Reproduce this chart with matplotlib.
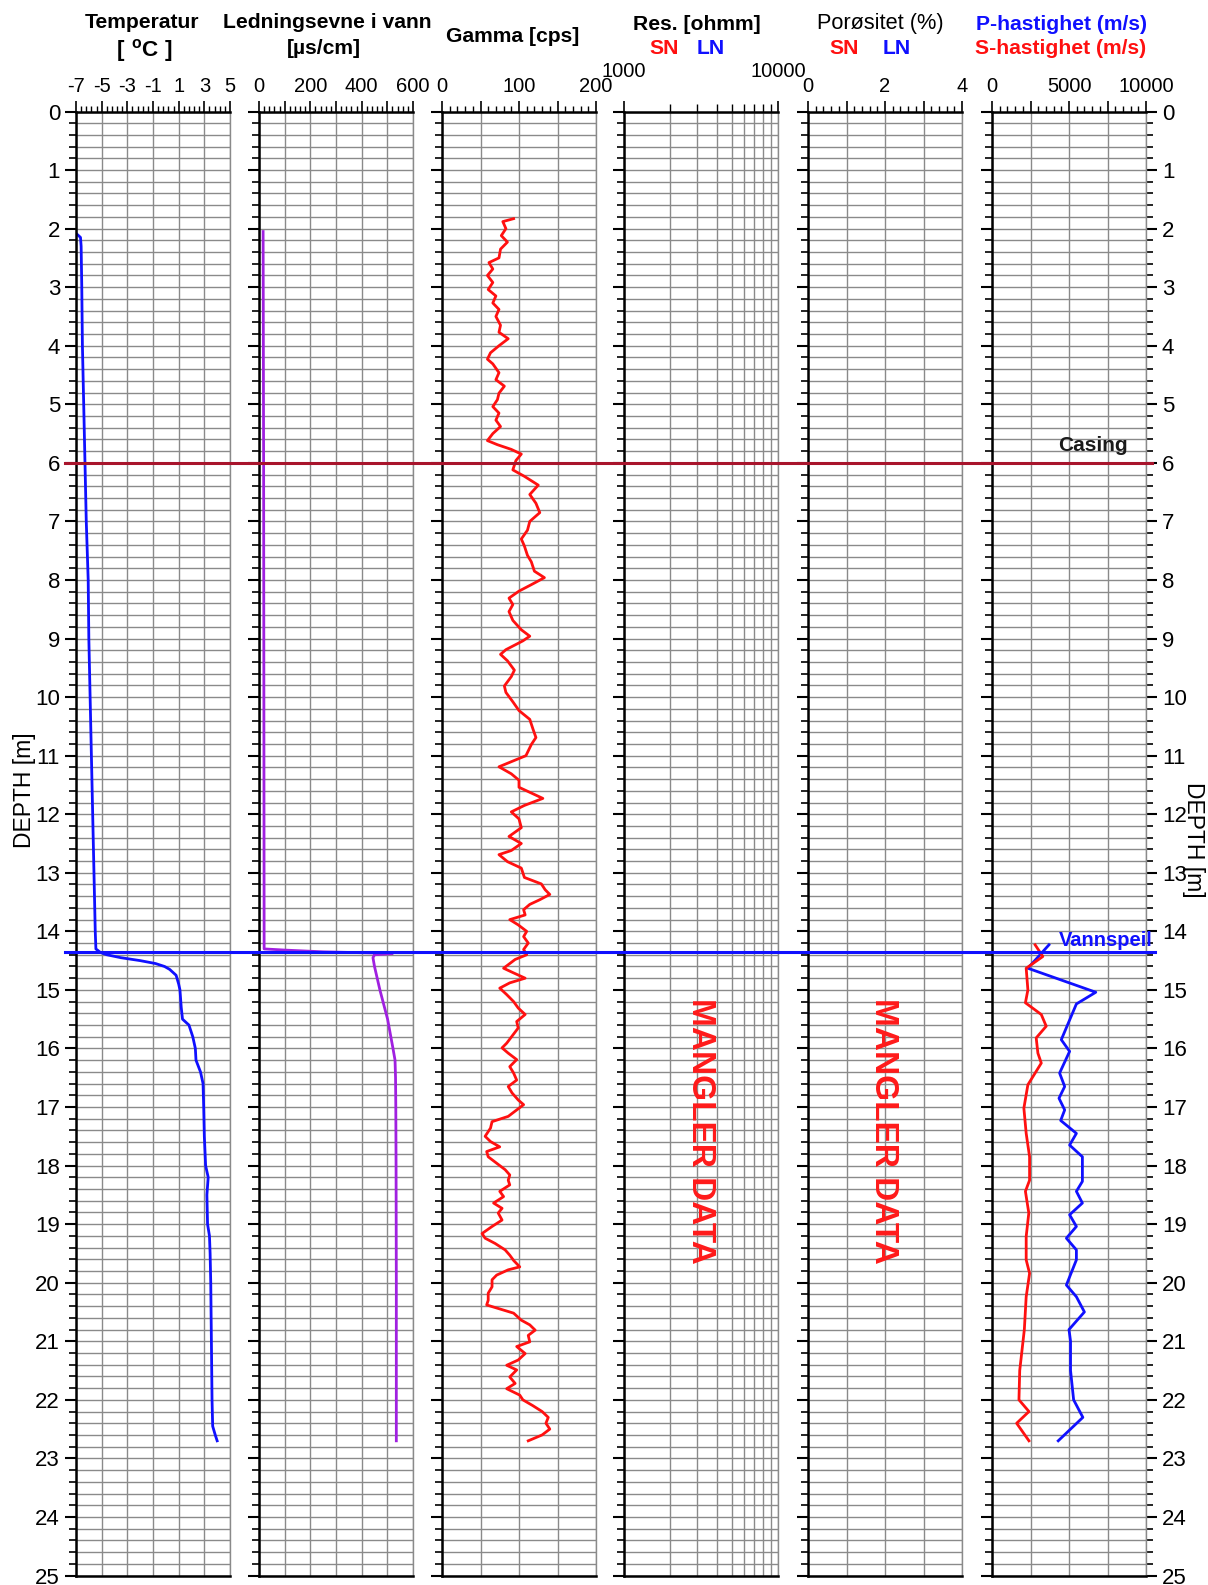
import matplotlib
matplotlib.use("Agg")
import matplotlib.pyplot as plt
from matplotlib.ticker import MultipleLocator, FixedLocator, FuncFormatter, NullFormatter
from matplotlib.lines import Line2D
from matplotlib.transforms import blended_transform_factory
import numpy as np

plt.rcParams['font.family'] = ['Liberation Sans', 'DejaVu Sans']
plt.rcParams['mathtext.fontset'] = 'custom'
plt.rcParams['mathtext.rm'] = 'Liberation Sans'
plt.rcParams['mathtext.bf'] = 'Liberation Sans:bold'

# ---------------- data ----------------
temp_depth = [2.10, 2.15, 2.3, 3.0, 4.0, 5.0, 6.0, 7.0, 8.0, 9.0, 10.0, 11.0, 12.0, 13.0, 14.0, 14.30,
              14.36, 14.40, 14.45, 14.50, 14.55, 14.60, 14.65, 14.75, 14.90, 15.0, 15.3, 15.5, 15.6,
              15.8, 16.0, 16.2, 16.4, 16.6, 17.0, 17.5, 18.0, 18.2, 18.5, 19.0, 19.2, 19.5, 20.0,
              21.0, 22.0, 22.45, 22.6, 22.7]
temp_val = [-6.9, -6.65, -6.6, -6.55, -6.5, -6.4, -6.3, -6.2, -6.05, -6.0, -5.9, -5.8, -5.7, -5.6, -5.5, -5.45,
            -5.1, -4.6, -3.5, -2.0, -0.8, -0.1, 0.3, 0.8, 1.0, 1.1, 1.2, 1.3, 1.8,
            2.1, 2.3, 2.35, 2.7, 2.9, 2.95, 3.0, 3.1, 3.3, 3.2, 3.25, 3.4, 3.45, 3.5,
            3.55, 3.6, 3.65, 3.85, 4.0]

cond_depth = [2.05, 6.0, 10.0, 14.30, 14.32, 14.35, 14.37, 14.38, 14.40, 14.45, 14.6, 15.0, 15.5, 16.0,
              16.2, 16.5, 17.0, 18.0, 20.0, 22.7]
cond_val = [16, 18, 19, 20, 100, 250, 450, 520, 450, 444, 450, 471, 501, 522,
            530, 532, 533, 534, 535, 535]

gamma_depth = [1.83, 1.88, 2.0, 2.12, 2.23, 2.35, 2.5, 2.58, 2.69, 2.8, 2.92, 3.04, 3.15, 3.27, 3.38, 3.5,
               3.65, 3.77, 3.88, 4.0, 4.12, 4.23, 4.31, 4.46, 4.58, 4.69, 4.81, 4.92, 5.04, 5.15, 5.27,
               5.38, 5.5, 5.62, 5.69, 5.77, 5.85, 5.96, 6.12, 6.23, 6.38, 6.54, 6.69, 6.85, 7.0, 7.15,
               7.3, 7.42, 7.58, 7.69, 7.85, 7.96, 8.08, 8.19, 8.31, 8.42, 8.54, 8.69, 8.85, 8.96, 9.04,
               9.19, 9.27, 9.38, 9.54, 9.65, 9.81, 9.92, 10.08, 10.23, 10.38, 10.54, 10.69, 10.81, 11.0,
               11.12, 11.19, 11.31, 11.42, 11.54, 11.73, 11.85, 11.96, 12.08, 12.23, 12.38, 12.5, 12.62,
               12.69, 12.81, 12.92, 13.08, 13.19, 13.29, 13.37, 13.46, 13.54, 13.63, 13.72, 13.8,
               13.89, 14.0, 14.09, 14.2, 14.31, 14.4, 14.48, 14.63, 14.71, 14.8, 14.88, 14.97, 15.08,
               15.2, 15.31, 15.42, 15.54, 15.65, 15.79, 15.91, 15.99, 16.08, 16.19, 16.31, 16.42, 16.54,
               16.65, 16.76, 16.88, 16.96, 17.05, 17.16, 17.25, 17.36, 17.5, 17.59, 17.68, 17.76, 17.85,
               17.96, 18.07, 18.16, 18.25, 18.33, 18.44, 18.53, 18.64, 18.73, 18.81, 18.93, 19.04,
               19.16, 19.24, 19.33, 19.44, 19.53, 19.62, 19.73, 19.78, 19.87, 19.95, 20.07, 20.18,
               20.3, 20.38, 20.44, 20.52, 20.64, 20.72, 20.81, 20.9, 21.01, 21.09, 21.21, 21.32, 21.41,
               21.49, 21.61, 21.72, 21.81, 21.92, 22.0, 22.1, 22.2, 22.3, 22.4, 22.5, 22.6, 22.7]
gamma_val = [93, 79, 83, 77, 85, 76, 74, 61, 66, 59, 66, 60, 70, 66, 74, 70,
             76, 74, 86, 74, 63, 59, 66, 74, 70, 81, 74, 72, 66, 74, 70,
             76, 66, 59, 72, 90, 103, 96, 92, 107, 125, 114, 122, 127, 114, 111,
             103, 107, 111, 116, 120, 133, 116, 100, 87, 92, 87, 92, 103, 114, 105,
             83, 76, 85, 94, 90, 81, 83, 92, 100, 114, 118, 122, 116, 109,
             87, 74, 90, 100, 100, 131, 107, 90, 100, 103, 87, 103, 90,
             74, 85, 103, 107, 129, 134, 140, 127, 114, 106, 108, 88,
             99, 110, 106, 112, 106, 110, 95, 80, 93, 108, 88, 75, 84,
             93, 99, 108, 97, 99, 91, 84, 78, 86, 97, 88, 93, 97,
             86, 91, 99, 106, 97, 86, 65, 63, 56, 63, 75, 58, 60,
             71, 82, 88, 86, 88, 75, 80, 67, 78, 73, 78, 65,
             52, 56, 69, 82, 88, 93, 101, 86, 71, 65, 65, 60,
             60, 58, 73, 93, 103, 114, 121, 112, 114, 97, 108, 99, 84,
             97, 88, 95, 84, 101, 105, 118, 130, 138, 135, 140, 130, 112]

vp_depth = [14.23, 14.63, 15.04, 15.24, 15.85, 16.05, 16.42, 16.65, 16.85, 17.05, 17.23, 17.45, 17.65,
            17.85, 18.27, 18.44, 18.64, 18.84, 19.04, 19.24, 19.44, 19.61, 20.04, 20.24, 20.5, 20.8,
            21.0, 21.5, 22.0, 22.3, 22.7]
vp_val = [3700, 2330, 6740, 5480, 4500, 5040, 4390, 4720, 4350, 4720, 4460, 5480, 5040,
          5870, 5870, 5480, 5870, 5040, 5480, 4830, 5480, 5480, 4830, 5480, 6000, 5000,
          5100, 5100, 5300, 5900, 4300]

vs_depth = [14.23, 14.43, 14.63, 15.0, 15.22, 15.42, 15.62, 15.82, 16.08, 16.25, 16.62, 17.02, 17.45,
            17.85, 18.25, 18.44, 18.81, 19.21, 19.61, 19.84, 20.24, 20.8, 21.5, 22.0, 22.2, 22.4, 22.7]
vs_val = [2800, 3300, 2220, 2330, 2170, 3200, 3520, 2870, 2980, 3200, 2330, 2070, 2220,
          2440, 2440, 2170, 2390, 2220, 2220, 2440, 2220, 2100, 1800, 1750, 2400, 1600, 2400]

depth_labels = list(range(0, 26))
temp_ticks = [-7, -5, -3, -1, 1, 3, 5]
casing_depth = 6.0
water_depth = 14.35

# ---------------- layout ----------------
W, H = 1208, 1585
fig = plt.figure(figsize=(W / 100, H / 100), dpi=100)
lefts = [76, 259, 442, 624, 808, 992]
pw = 154
top_px, bot_px = 111.5, 1575.5
axes = []
for lx in lefts:
    ax = fig.add_axes([lx / W, 1 - bot_px / H, pw / W, (bot_px - top_px) / H])
    axes.append(ax)

GRID = '#8a8a8a'
XFS = 14.5
YFS = 16


def style(ax, xmin, xmax, major_locs, minor_locs, labels_at=None, log=False, pad=3):
    ax.set_ylim(25, 0)
    if log:
        ax.set_xscale('log')
    ax.set_xlim(xmin, xmax)
    ax.xaxis.set_major_locator(FixedLocator(major_locs))
    ax.xaxis.set_minor_locator(FixedLocator(minor_locs))
    ax.xaxis.set_minor_formatter(NullFormatter())
    ax.xaxis.set_major_formatter(FuncFormatter(
        lambda v, p: ('%g' % round(v, 6)) if any(abs(v - l) < 1e-6 for l in labels_at) else ''))
    ax.grid(True, which='major', axis='x', color=GRID, lw=1.0)
    if log:
        ax.grid(True, which='minor', axis='x', color=GRID, lw=1.0)
    ax.xaxis.tick_top()
    ax.tick_params(axis='x', which='major', direction='out', length=8, width=1.2, labelsize=XFS, pad=pad)
    ax.tick_params(axis='x', which='minor', direction='out', length=4, width=1.0)
    ax.yaxis.set_major_locator(MultipleLocator(1))
    ax.yaxis.set_minor_locator(MultipleLocator(0.2))
    ax.grid(True, which='both', axis='y', color=GRID, lw=1.0)
    ax.tick_params(axis='y', which='major', direction='out', length=8, width=1.5, labelsize=YFS,
                   left=True, labelleft=False)
    ax.tick_params(axis='y', which='minor', direction='out', length=5, width=1.2)
    for s in ['left', 'top', 'bottom']:
        ax.spines[s].set_color('black')
        ax.spines[s].set_linewidth(1.8)
    ax.spines['right'].set_color(GRID)
    ax.spines['right'].set_linewidth(1.0)
    ax.set_axisbelow(True)


axT, axC, axG, axR, axP, axV = axes
style(axT, -7, 5, temp_ticks, np.arange(-7, 5.01, 0.4), labels_at=temp_ticks)
style(axC, 0, 600, np.arange(0, 601, 100), np.arange(0, 601, 20), labels_at=[0, 200, 400, 600])
style(axG, 0, 200, np.arange(0, 201, 50), np.arange(0, 201, 10), labels_at=[0, 100, 200])
style(axR, 1000, 10000, [1000, 10000], [k * 1000 for k in range(2, 10)], labels_at=[1000, 10000],
      log=True, pad=14)
style(axP, 0, 4, np.arange(0, 4.01, 1), np.arange(0, 4.01, 0.2), labels_at=[0, 2, 4])
style(axV, 0, 10000, np.arange(0, 10001, 2500), np.arange(0, 10001, 500), labels_at=[0, 5000, 10000])
axR.tick_params(axis='x', which='minor', length=6)

axT.set_yticks(depth_labels)
axT.tick_params(axis='y', labelleft=True)
axV.tick_params(axis='y', which='both', right=True, labelright=True)

# curves
axT.plot(temp_val, temp_depth, color='#1010ff', lw=2.0)
axC.plot(cond_val, cond_depth, color='#a020e0', lw=2.0)
axG.plot(gamma_val, gamma_depth, color='#ff1010', lw=2.0)
axV.plot(vp_val, vp_depth, color='#1010ff', lw=2.0)
axV.plot(vs_val, vs_depth, color='#ff1010', lw=2.0)

# spanning horizontal lines
tr = blended_transform_factory(fig.transFigure, axT.transData)
fig.add_artist(Line2D([65 / W, 1152 / W], [casing_depth, casing_depth], transform=tr,
                      color='#a8142c', lw=2.2, zorder=5))
fig.add_artist(Line2D([65 / W, 1155 / W], [water_depth, water_depth], transform=tr,
                      color='#1010ff', lw=2.2, zorder=5))

axV.text(0.88, 5.7, 'Casing', transform=blended_transform_factory(axV.transAxes, axV.transData),
         ha='right', va='center', fontsize=15, fontweight='bold', color='#1a1a1a')
axV.text(1.04, 14.15, 'Vannspeil', transform=blended_transform_factory(axV.transAxes, axV.transData),
         ha='right', va='center', fontsize=14.5, fontweight='bold', color='#1010ff', clip_on=False)

for ax, xc in [(axR, 0.5), (axP, 0.49)]:
    ax.text(xc, 17.4, 'MANGLER DATA', transform=blended_transform_factory(ax.transAxes, ax.transData),
            rotation=-90, ha='center', va='center', fontsize=24, fontweight='bold', color='#ff1a1a')

# headers
def ftext(x, y, s, **kw):
    fig.text(x / W, 1 - y / H, s, ha='center', va='center', **kw)

HFS = 15.2
ftext(142, 23, 'Temperatur', fontsize=HFS, fontweight='bold')
ftext(145, 50, r'$\mathbf{[\ ^{o}C\ ]}$', fontsize=HFS + 1)
ftext(327, 23, 'Ledningsevne i vann', fontsize=HFS, fontweight='bold')
ftext(324, 48, '[\u00b5s/cm]', fontsize=HFS, fontweight='bold')
ftext(513, 37, 'Gamma [cps]', fontsize=HFS, fontweight='bold')
ftext(697, 24, 'Res. [ohmm]', fontsize=HFS, fontweight='bold')
ftext(664, 48, 'SN', fontsize=HFS, fontweight='bold', color='#ff1010')
ftext(711, 48, 'LN', fontsize=HFS, fontweight='bold', color='#1010ff')
ftext(880, 24, 'Por\u00f8sitet (%)', fontsize=HFS + 0.5)
ftext(844, 48, 'SN', fontsize=HFS, fontweight='bold', color='#ff1010')
ftext(897, 48, 'LN', fontsize=HFS, fontweight='bold', color='#1010ff')
ftext(1061, 24, 'P-hastighet (m/s)', fontsize=HFS, fontweight='bold', color='#1010ff')
ftext(1061, 48, 'S-hastighet (m/s)', fontsize=HFS, fontweight='bold', color='#ff1010')

ftext(25, 790, 'DEPTH [m]', fontsize=16.5, rotation=90)
ftext(1193, 840, 'DEPTH [m]', fontsize=16.5, rotation=-90)

fig.savefig('out.png', dpi=100)
